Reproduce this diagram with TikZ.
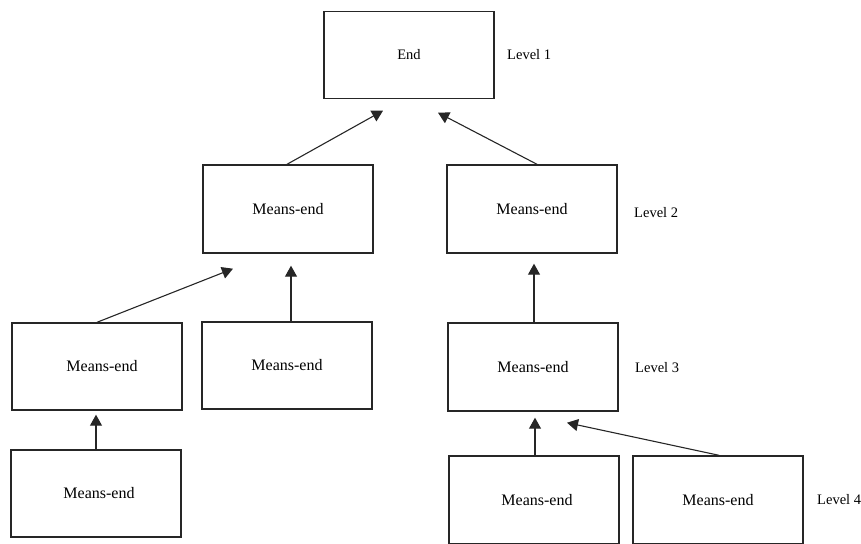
\documentclass[tikz,border=0pt]{standalone}
\usepackage{fontspec}
\setmainfont{Liberation Serif}
\usetikzlibrary{arrows.meta}
\begin{document}
\begin{tikzpicture}[x=1pt,y=-1pt,
  box/.style={draw=black!85,line width=1.4pt,minimum width=170pt,minimum height=87pt,inner sep=0pt,
    font=\fontsize{16}{19}\selectfont},
  lvl/.style={anchor=west,inner sep=0pt,font=\fontsize{14.5}{17}\selectfont},
  arr/.style={draw=black!85,line width=1.1pt,-{Triangle[width=12pt,length=11pt]}}]
\useasboundingbox (0,0) rectangle (861,543);
% level 1
\node[box,font=\fontsize{14.5}{17}\selectfont] (end) at (409,55) {End};
% level 2
\node[box,minimum height=88pt] (m2l) at (288,209) {Means-end};
\node[box,minimum height=88pt] (m2r) at (532,209) {Means-end};
% level 3
\node[box] (m3a) at (97,366.5) {\hspace*{10pt}Means-end};
\node[box] (m3b) at (287,365.5) {Means-end};
\node[box,minimum height=88pt] (m3c) at (533,367) {Means-end};
% level 4
\node[box] (m4a) at (96,493.5) {\hspace*{6pt}Means-end};
\node[box,minimum height=88pt] (m4b) at (534,500) {\hspace*{6pt}Means-end};
\node[box,minimum height=88pt] (m4c) at (718,500) {Means-end};
% level labels
\node[lvl] (l1) at (507,55) {Level 1};
\node[lvl] (l2) at (634,213) {Level 2};
\node[lvl] (l3) at (635,368) {Level 3};
\node[lvl] (l4) at (817,500) {Level 4};
% connectors
\draw[arr] ([xshift=-1pt]m2l.north) -- ([xshift=-26pt,yshift=-11.5pt]end.south);
\draw[arr] ([xshift=5pt]m2r.north) -- ([xshift=29pt,yshift=-13.5pt]end.south);
\draw[arr] (m3a.north) -- ([xshift=-55pt,yshift=-15pt]m2l.south);
\draw[arr] ([xshift=4pt]m3b.north) -- ([xshift=3pt,yshift=-12pt]m2l.south);
\draw[arr] ([xshift=1pt]m3c.north) -- ([xshift=2pt,yshift=-10pt]m2r.south);
\draw[arr] (m4a.north) -- ([xshift=-1pt,yshift=-4pt]m3a.south);
\draw[arr] ([xshift=1pt]m4b.north) -- ([xshift=2pt,yshift=-6pt]m3c.south);
\draw[arr] ([xshift=1pt]m4c.north) -- ([xshift=34pt,yshift=-11pt]m3c.south);
\end{tikzpicture}
\end{document}
